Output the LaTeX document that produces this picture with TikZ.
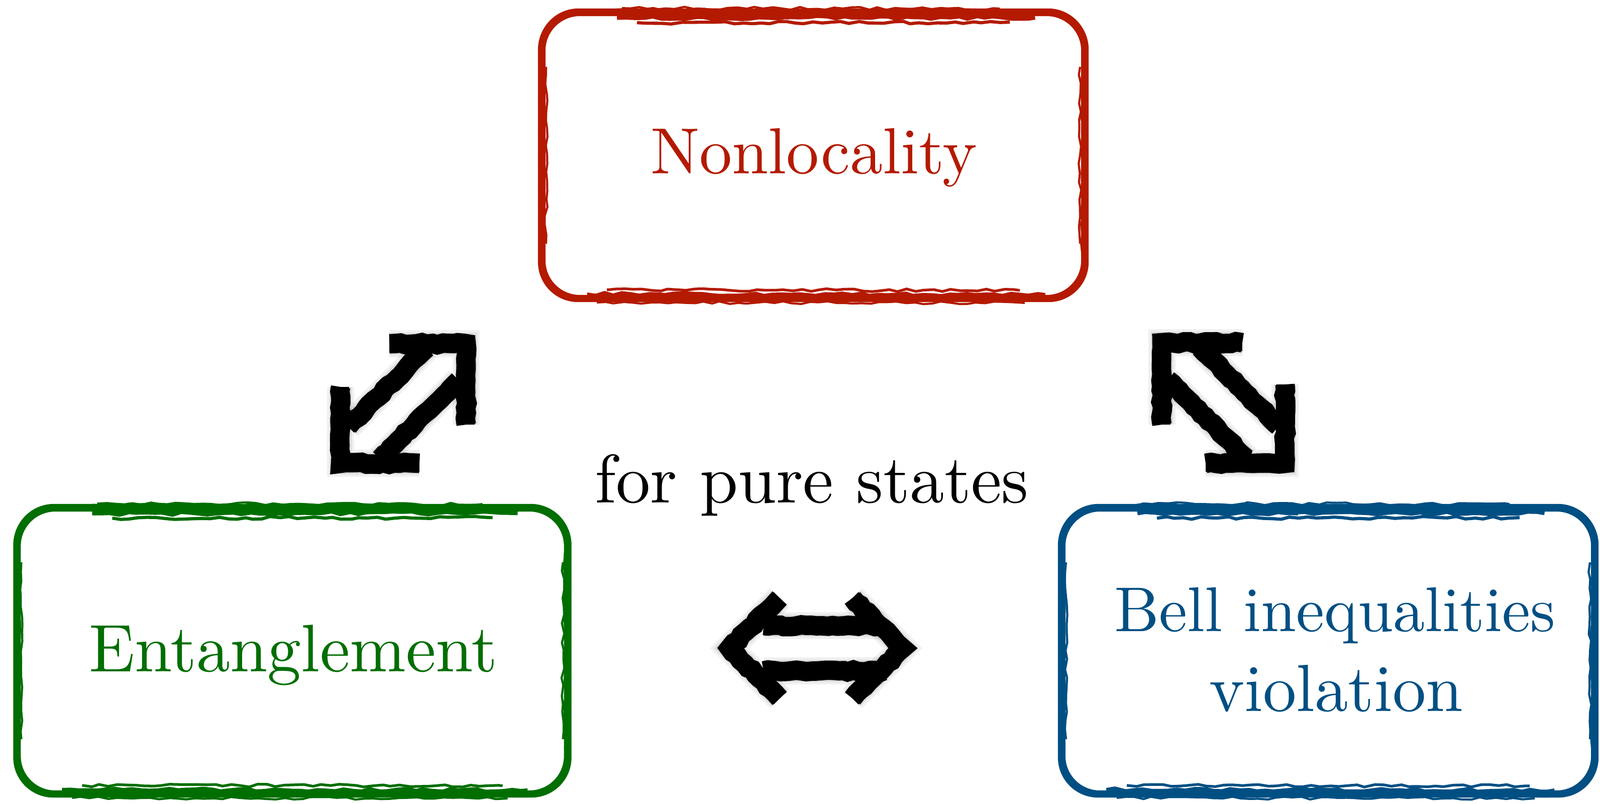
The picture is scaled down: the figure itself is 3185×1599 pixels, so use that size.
\documentclass[tikz,border=0pt]{standalone}
\usetikzlibrary{calc,decorations.pathmorphing}
\definecolor{nlred}{RGB}{180,26,0}
\definecolor{engreen}{RGB}{0,110,0}
\definecolor{bellblue}{RGB}{0,79,131}
\tikzset{
  boxnode/.style={minimum width=#1, minimum height=5.70cm, inner sep=0pt, draw=none},
  txtnode/.style={inner sep=0pt, anchor=base},
  roughstroke/.style={decorate, decoration={random steps, segment length=5pt, amplitude=0.8pt}},
  arrowrough/.style={decorate, decoration={random steps, segment length=3pt, amplitude=0.6pt}},
  arrowstroke/.style={line width=11pt, line join=miter, line cap=butt},
}
\newcommand\roughbox[2]{%
  \draw[#2, line width=3.6pt, rounded corners=21pt] (#1.north west) rectangle (#1.south east);
  \draw[#2, line width=1.2pt, rounded corners=22pt] ($(#1.north west)+(-5,-2)$) rectangle ($(#1.south east)+(5,4)$);
  \draw[#2, line width=1.1pt, rounded corners=20pt] ($(#1.north west)+(6,7)$) rectangle ($(#1.south east)+(-6,-6)$);
  \draw[#2, line width=0.8pt, rounded corners=21pt] ($(#1.north west)+(-2,4)$) rectangle ($(#1.south east)+(3,-3)$);
  % heavy rough strokes along the edges (corners left out)
  \draw[#2, line width=6.5pt, roughstroke] ($(#1.north west)+(150,5)$) -- ($(#1.north)+(-60,5)$);
  \draw[#2, line width=4pt, roughstroke] ($(#1.north)+(-80,8)$) -- ($(#1.north east)+(-100,9)$);
  \draw[#2, line width=1.8pt, roughstroke] ($(#1.north west)+(190,22)$) -- ($(#1.north east)+(-150,21)$);
  \draw[#2, line width=1.2pt, roughstroke] ($(#1.north west)+(160,-7)$) -- ($(#1.north east)+(-170,-6)$);
  \draw[#2, line width=4.5pt, roughstroke] ($(#1.south west)+(90,-5)$) -- ($(#1.south east)+(-80,-4)$);
  \draw[#2, line width=1.5pt, roughstroke] ($(#1.south west)+(130,-18)$) -- ($(#1.south east)+(-130,-17)$);
  \draw[#2, line width=1.2pt, roughstroke] ($(#1.south west)+(110,7)$) -- ($(#1.south east)+(-120,8)$);
  \draw[#2, line width=2.2pt, roughstroke] ($(#1.north east)+(-4,90)$) -- ($(#1.south east)+(-4,-90)$);
  \draw[#2, line width=1.8pt, roughstroke] ($(#1.north west)+(3,90)$) -- ($(#1.south west)+(3,-90)$);
  \draw[#2, line width=1.2pt, roughstroke] ($(#1.north east)+(-10,110)$) -- ($(#1.south east)+(-10,-110)$);
  \draw[#2, line width=1.2pt, roughstroke] ($(#1.north west)+(9,110)$) -- ($(#1.south west)+(9,-110)$);
}
\newcommand\arrowset[1]{%
  % left diagonal double arrow
  \draw[#1] ($(ltr)+(-153,0)$) -- (ltr) -- ($(ltr)+(0,161)$);
  \draw[#1] ($(lbl)+(0,-152)$) -- (lbl) -- ($(lbl)+(157,0)$);
  \draw[#1] ($(lc)+(46,-110)$) -- ($(lc)+(-110,46)$);
  \draw[#1] ($(lc)+(110,-46)$) -- ($(lc)+(-46,110)$);
  % right diagonal double arrow
  \draw[#1] ($(rtl)+(160,0)$) -- (rtl) -- ($(rtl)+(0,163)$);
  \draw[#1] ($(rbr)+(0,-157)$) -- (rbr) -- ($(rbr)+(-158,0)$);
  \draw[#1] ($(rc)+(-46,-110)$) -- ($(rc)+(110,46)$);
  \draw[#1] ($(rc)+(-110,-46)$) -- ($(rc)+(46,110)$);
  % horizontal double arrow
  \draw[#1] ($(hl)+(100,-100)$) -- (hl) -- ($(hl)+(100,100)$);
  \draw[#1] ($(hr)+(-100,-100)$) -- (hr) -- ($(hr)+(-100,100)$);
  \draw[#1] ($(hl)+(68,-45)$) -- ($(hr)+(-38,-45)$);
  \draw[#1] ($(hl)+(68,45)$) -- ($(hr)+(-38,45)$);
}
\begin{document}
\begin{tikzpicture}[x=0.01cm, y=-0.01cm]
  \useasboundingbox[fill=white] (0,0) rectangle (3185,1599);

  % boxes
  \node[boxnode=10.80cm] (nl) at (1619,309) {};
  \node[boxnode=10.95cm] (en) at (582,1295) {};
  \node[boxnode=10.60cm] (bv) at (2644,1295) {};
  \roughbox{nl}{nlred}
  \roughbox{en}{engreen}
  \roughbox{bv}{bellblue}

  % texts
  \node[txtnode, text=nlred] (nltext) at (1620,345) {\resizebox{6.49cm}{!}{Nonlocality}};
  \node[txtnode, text=engreen] (entext) at (584,1336) {\resizebox{8.12cm}{!}{Entanglement}};
  \node[txtnode, text=bellblue] (bvtexta) at (2657,1256) {\resizebox{8.77cm}{!}{Bell inequalities}};
  \node[txtnode, text=bellblue] (bvtextb) at (2660,1415) {\resizebox{5.05cm}{!}{violation}};
  \node[txtnode, text=black] (fps) at (1616,1000) {\resizebox{8.63cm}{!}{for pure states}};

  % arrow anchor points
  \coordinate (ltr) at (928,684);
  \coordinate (lbl) at (678,922);
  \coordinate (lc) at (803,803);
  \coordinate (rtl) at (2313,682);
  \coordinate (rbr) at (2558,922);
  \coordinate (rc) at (2435,802);
  \coordinate (hl) at (1452,1290);
  \coordinate (hr) at (1797,1290);

  % soft shadows of the arrows
  \begin{scope}[shift={(7,12)}]
    \arrowset{arrowstroke, black, opacity=0.06, line width=15.5pt}
    \arrowset{arrowstroke, black, opacity=0.08, line width=12.5pt}
  \end{scope}
  % arrows
  \arrowset{arrowstroke, black, arrowrough}
  \arrowset{arrowstroke, black, line width=9.5pt}
\end{tikzpicture}
\end{document}
